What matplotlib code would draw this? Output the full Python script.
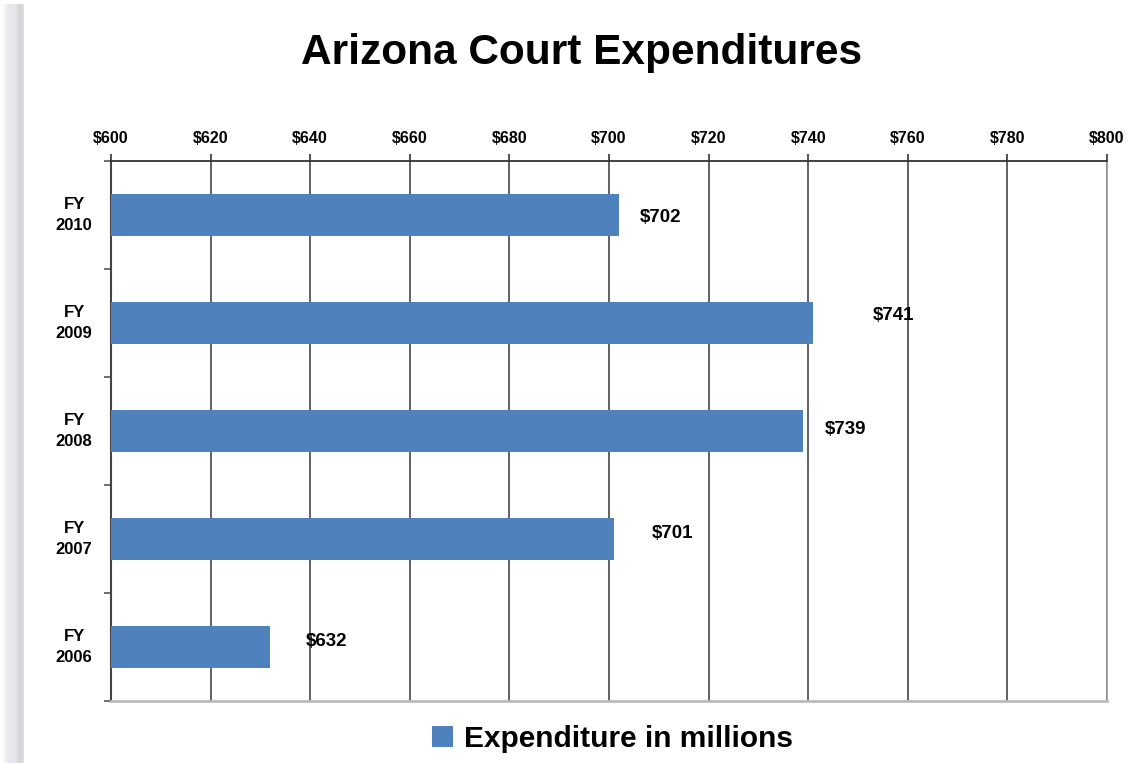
import matplotlib
matplotlib.use("Agg")
import matplotlib.pyplot as plt
import numpy as np
from matplotlib.ticker import FixedLocator
from matplotlib.transforms import blended_transform_factory

categories = ["FY\n2010", "FY\n2009", "FY\n2008", "FY\n2007", "FY\n2006"]
values = [702, 741, 739, 701, 632]
value_labels = ["$702", "$741", "$739", "$701", "$632"]
xticks = [600, 620, 640, 660, 680, 700, 720, 740, 760, 780, 800]
xtick_labels = ["$600", "$620", "$640", "$660", "$680", "$700", "$720", "$740", "$760", "$780", "$800"]
series_name = "Expenditure in millions"

# label placement (pixels right of bar end, pixels up from bar centre)
label_dx = [21, 60, 22, 38, 35]
label_dy = [-3, 7, 1, 5, 5]

plt.rcParams['font.family'] = ['Liberation Sans', 'DejaVu Sans']
fig = plt.figure(figsize=(11.28, 7.63), dpi=100)

# left shadow strip
sh = fig.add_axes([3 / 1128, 0.0, 21 / 1128, 0.995])
shade = np.array([[0.97, 0.93, 0.91, 0.90, 0.90, 0.89, 0.85, 0.83, 0.86]])
rgb = np.stack([shade, shade, shade * 1.0 + 0.02], axis=-1).clip(0, 1)
sh.imshow(rgb, aspect='auto', extent=[0, 1, 0, 1], interpolation='bilinear')
sh.axis('off')

ax = fig.add_axes([0.0984, 0.0813, 0.883, 0.7077])
color = "#4F81BD"
ypos = np.arange(len(categories))
bars = ax.barh(ypos, [v - 600 for v in values], left=600, height=0.39, color=color,
               label=series_name, zorder=3)
ax.set_xlim(600, 800)
ax.set_ylim(len(categories) - 0.5, -0.5)

ax.xaxis.set_major_locator(FixedLocator(xticks))
ax.set_xticklabels(xtick_labels, fontsize=11.5, fontweight='bold')
ax.xaxis.tick_top()
ax.tick_params(axis='x', direction='out', length=5, width=1.2, color='#333333', pad=6)
ax.grid(axis='x', color='#555555', linewidth=1.3, zorder=1)

ax.set_yticks(ypos)
ax.set_yticklabels([])
ax.yaxis.set_minor_locator(FixedLocator(np.arange(-0.5, len(categories), 1.0)))
ax.tick_params(axis='y', which='major', length=0)
ax.tick_params(axis='y', which='minor', direction='out', length=5, width=1.2, color='#555555')
trans = blended_transform_factory(ax.transAxes, ax.transData)
for i, cat in enumerate(categories):
    ax.text(-0.037, i, cat, transform=trans, ha='center', va='center', fontsize=12,
            fontweight='bold', linespacing=1.45)

ax.spines['top'].set_color('#333333')
ax.spines['top'].set_linewidth(1.3)
ax.spines['left'].set_color('#444444')
ax.spines['left'].set_linewidth(1.5)
ax.spines['bottom'].set_color('#BBBBBB')
ax.spines['bottom'].set_linewidth(2)
ax.spines['right'].set_color('#999999')
ax.spines['right'].set_linestyle((0, (2, 1)))
ax.spines['right'].set_linewidth(1.2)

for i, (v, lab) in enumerate(zip(values, value_labels)):
    ax.annotate(lab, xy=(v, i), xytext=(label_dx[i], label_dy[i]), textcoords='offset pixels',
                ha='left', va='center', fontsize=13.5, fontweight='bold', zorder=4)

fig.text(0.516, 0.931, "Arizona Court Expenditures", ha='center', va='center',
         fontsize=30.5, fontweight='bold')

leg = fig.legend(handles=[bars], labels=[series_name], loc='center', bbox_to_anchor=(0.543, 0.031),
                 frameon=False, handlelength=0.7, handleheight=0.7,
                 handletextpad=0.35, prop={'weight': 'bold', 'size': 21.5})

fig.savefig("out.png", dpi=100)
